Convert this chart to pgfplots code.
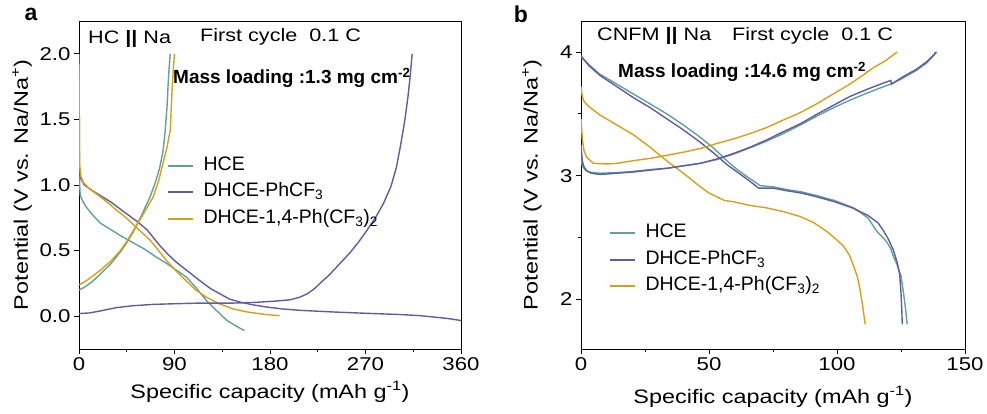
\documentclass[border=0pt]{standalone}
\usepackage{pgfplots}
\pgfplotsset{compat=1.18}
\usepackage{fontspec}
\setmainfont{Liberation Sans}
\newfontfamily\wide{Liberation Sans}[FakeStretch=1.2]
\newfontfamily\leg{Liberation Sans}
\definecolor{cteal}{RGB}{98,160,155}
\definecolor{cpurp}{RGB}{95,93,160}
\definecolor{cgold}{RGB}{215,160,25}
\pgfplotsset{
  panel/.style={
    scale only axis, height=328pt,
    axis line style={line width=0.9pt},
    tick align=outside, xtick pos=bottom, ytick pos=left,
    major tick length=5pt, minor tick length=3pt,
    every tick/.style={black, line width=0.8pt},
    tick label style={font=\fontsize{18.5}{18.5}\selectfont},
    label style={font=\wide\fontsize{19.5}{19.5}\selectfont},
    /pgf/number format/assume math mode=true,
    minor x tick num=1, minor y tick num=1,
    legend cell align=left,
    legend image code/.code={\draw[#1, line width=1.9pt] (0pt,0pt) -- (25pt,0pt);},
    legend style={draw=none, fill=none, font=\leg\fontsize{19.5}{19.5}\selectfont,
      row sep=4.5pt, column sep=8pt, nodes={inner sep=1.5pt, text height=14pt, text depth=5pt}},
    every axis plot/.append style={line width=1.4pt},
  }
}
\begin{document}
\begin{tikzpicture}
\path[use as bounding box] (0pt,0pt) rectangle (987pt,-414pt);
% ---------------- panel a ----------------
\begin{axis}[panel, width=382pt, at={(79pt,-349pt)}, anchor=south west,
  xmin=0, xmax=360, ymin=-0.25, ymax=2.25,
  xtick={0,90,180,270,360}, ytick={0,0.5,1,2},
  extra y ticks={1.5}, extra y tick labels={\scalebox{1.2}[1]{1.5}},
  extra y tick style={tick label style={text=black}},
  xticklabels={\scalebox{1.2}[1]{0},\scalebox{1.2}[1]{90},\scalebox{1.2}[1]{180},\scalebox{1.2}[1]{270},\scalebox{1.2}[1]{360}},
  yticklabels={\scalebox{1.2}[1]{0.0},\scalebox{1.2}[1]{0.5},\scalebox{1.2}[1]{1.0},\scalebox{1.2}[1]{2.0}},
  xlabel={Specific capacity (mAh g\textsuperscript{-1})},
  ylabel={Potential (V vs. Na/Na\textsuperscript{+})},
  xlabel style={at={(axis description cs:0.5,-0.131)}, anchor=center},
  ylabel style={at={(axis description cs:-0.149,0.5)}, anchor=center},
  legend style={at={(rel axis cs:0.2225,0.599)}, anchor=north west},
]
\addplot[cteal] coordinates {(0,2.0)(0.3,1.5)(0.6,1.0)(1.2,0.92)(4,0.87)(7,0.83)(12,0.78)(20,0.71)(30,0.66)(40,0.61)(51,0.56)(62,0.51)(73,0.45)(83,0.40)(92,0.35)(101,0.30)(110,0.22)(120,0.12)(130,0.04)(139,-0.03)(148,-0.075)(156,-0.11)};
\addlegendentry{HCE}
\addplot[cpurp] coordinates {(0,1.12)(1,1.06)(5,1.0)(12,0.96)(20,0.92)(30,0.87)(45,0.78)(55,0.72)(64,0.66)(70,0.60)(76,0.54)(84,0.47)(92,0.41)(103,0.34)(114,0.27)(124,0.21)(133,0.17)(142,0.13)(152,0.107)(165,0.085)(177,0.07)(192,0.055)(208,0.045)(240,0.032)(271,0.022)(302,0.013)(320,0.005)(334,-0.006)(348,-0.018)(360,-0.033)};
\addlegendentry{DHCE-PhCF\textsubscript{3}}
\addplot[cgold] coordinates {(0,1.91)(0.3,1.5)(0.6,1.15)(2,1.06)(4,1.02)(10,0.97)(20,0.91)(28,0.86)(35,0.81)(43,0.76)(51,0.70)(59,0.64)(67,0.58)(75,0.50)(83,0.42)(92,0.34)(101,0.27)(110,0.20)(120,0.145)(132,0.095)(145,0.056)(158,0.033)(171,0.018)(180,0.01)(189,0.004)};
\addlegendentry{DHCE-1,4-Ph(CF\textsubscript{3})\textsubscript{2}}
\addplot[cteal, forget plot] coordinates {(0,0.20)(5,0.22)(12,0.26)(20,0.32)(30,0.40)(39,0.49)(45,0.56)(51,0.64)(59,0.77)(67,0.91)(72,1.02)(76,1.13)(79,1.25)(81,1.39)(83,1.60)(84,1.77)(85,1.90)(86,2.0)};
\addplot[cpurp, forget plot] coordinates {(0,0.02)(10,0.025)(20,0.04)(35,0.065)(51,0.08)(70,0.09)(90,0.095)(114,0.1)(145,0.1)(165,0.105)(185,0.115)(199,0.125)(208,0.145)(215,0.17)(222,0.21)(227,0.25)(234,0.30)(240,0.35)(248,0.42)(255,0.48)(263,0.56)(271,0.65)(280,0.76)(287,0.86)(294,0.99)(299,1.13)(303,1.30)(307,1.49)(310,1.67)(312,1.82)(314,2.0)};
\addplot[cgold, forget plot] coordinates {(0,0.24)(5,0.26)(12,0.30)(20,0.35)(30,0.42)(39,0.50)(45,0.57)(51,0.65)(60,0.77)(70,0.91)(75,1.03)(79,1.16)(83,1.29)(86,1.42)(87,1.6)(88,1.77)(89,1.9)(90,2.0)};
\end{axis}
% ---------------- panel b ----------------
\begin{axis}[panel, width=384pt, at={(581pt,-349pt)}, anchor=south west,
  xmin=0, xmax=150, ymin=1.6, ymax=4.25,
  xtick={0,50,100,150}, ytick={2,3,4},
  xticklabels={\scalebox{1.2}[1]{0},\scalebox{1.2}[1]{50},\scalebox{1.2}[1]{100},\scalebox{1.2}[1]{150}},
  yticklabels={\scalebox{1.2}[1]{2},\scalebox{1.2}[1]{3},\scalebox{1.2}[1]{4}},
  xlabel={Specific capacity (mAh g\textsuperscript{-1})},
  ylabel={Potential (V vs. Na/Na\textsuperscript{+})},
  xlabel style={at={(axis description cs:0.5,-0.146)}, anchor=center},
  ylabel style={at={(axis description cs:-0.128,0.5)}, anchor=center},
  legend style={at={(rel axis cs:0.065,0.393)}, anchor=north west},
]
\addplot[cteal] coordinates {(0,3.96)(3,3.90)(7.4,3.82)(14,3.74)(20.5,3.66)(27,3.58)(33.5,3.50)(40,3.41)(46.6,3.31)(52,3.22)(57,3.12)(61,3.05)(65,2.99)(70,2.92)(75,2.91)(80,2.89)(86,2.87)(92,2.84)(99,2.80)(106.5,2.74)(110,2.69)(112,2.66)(114,2.60)(116,2.54)(118,2.50)(119.6,2.46)(121,2.41)(122,2.35)(123.5,2.28)(125,2.19)(126,2.05)(126.8,1.92)(127.4,1.80)};
\addlegendentry{HCE}
\addplot[cpurp] coordinates {(0,3.97)(3,3.89)(7.4,3.81)(14,3.72)(20.5,3.63)(27,3.55)(33.5,3.46)(40,3.37)(46.6,3.27)(52,3.18)(57,3.09)(61,3.03)(65,2.97)(69.4,2.90)(75,2.90)(80,2.88)(86,2.86)(92,2.83)(99,2.79)(106,2.74)(112,2.68)(116,2.62)(118,2.56)(120,2.49)(122,2.40)(123.5,2.30)(124.5,2.20)(125,2.05)(125.3,1.92)(125.5,1.80)};
\addlegendentry{DHCE-PhCF\textsubscript{3}}
\addplot[cgold] coordinates {(0,3.72)(0.5,3.64)(1.2,3.60)(3,3.56)(7.4,3.49)(14,3.41)(20.5,3.33)(27,3.23)(33.5,3.12)(40,3.02)(46.6,2.91)(50,2.86)(53,2.83)(56,2.80)(59.6,2.79)(66,2.76)(72.6,2.74)(79,2.71)(85.7,2.67)(91,2.62)(96,2.55)(100,2.48)(102.6,2.43)(104.8,2.36)(106.5,2.27)(108,2.18)(109,2.08)(110,1.95)(111,1.80)};
\addlegendentry{DHCE-1,4-Ph(CF\textsubscript{3})\textsubscript{2}}
\addplot[cteal, forget plot] coordinates {(0,3.15)(0.5,3.08)(1.5,3.05)(3,3.03)(7.4,3.02)(14,3.025)(20.5,3.035)(27,3.05)(33.5,3.06)(40,3.08)(46.6,3.10)(53,3.13)(59.6,3.175)(66,3.225)(72.6,3.28)(79,3.34)(85.7,3.41)(92,3.48)(98.7,3.55)(105,3.61)(112,3.67)(117,3.71)(121,3.74)(125,3.78)(131,3.85)(135,3.91)(139,4.0)};
\addplot[cpurp, forget plot] coordinates {(0,3.25)(0.5,3.12)(1.2,3.07)(2.2,3.04)(4,3.02)(7.4,3.01)(14,3.02)(20.5,3.03)(27,3.045)(33.5,3.06)(40,3.08)(46.6,3.10)(53,3.135)(59.6,3.18)(66,3.23)(72.6,3.29)(79,3.355)(85.7,3.42)(92,3.495)(98.7,3.57)(105,3.64)(112,3.70)(117,3.74)(121,3.77)(121.3,3.74)(125,3.79)(131,3.86)(135,3.92)(138,3.98)(138.5,4.0)};
\addplot[cgold, forget plot] coordinates {(0,3.46)(0.5,3.30)(1.2,3.20)(2.2,3.15)(4.8,3.10)(10,3.095)(14,3.10)(20,3.12)(27,3.14)(33.5,3.165)(40,3.19)(46.6,3.22)(53,3.26)(60,3.30)(66,3.34)(72.6,3.39)(79,3.45)(85.7,3.51)(92,3.58)(98.5,3.66)(105,3.74)(110,3.81)(114,3.87)(119,3.93)(123.5,4.0)};
\end{axis}
% ---------------- annotations ----------------
\node[anchor=west, inner sep=0pt, font=\wide\fontsize{18}{18}\selectfont] at (88pt,-39pt) {HC \textbf{||} Na};
\node[anchor=west, inner sep=0pt, font=\wide\fontsize{18}{18}\selectfont] at (200pt,-37pt) {First cycle\ \ 0.1 C};
\node[anchor=west, inner sep=0pt, font=\bfseries\fontsize{19}{19}\selectfont] at (173pt,-78pt) {Mass loading :1.3 mg cm\textsuperscript{-2}};
\node[anchor=west, inner sep=0pt, font=\wide\fontsize{18}{18}\selectfont] at (597pt,-36pt) {CNFM \textbf{||} Na};
\node[anchor=west, inner sep=0pt, font=\wide\fontsize{18}{18}\selectfont] at (732pt,-36pt) {First cycle\ \ 0.1 C};
\node[anchor=west, inner sep=0pt, font=\bfseries\fontsize{19}{19}\selectfont] at (618pt,-72pt) {Mass loading :14.6 mg cm\textsuperscript{-2}};
\node[inner sep=0pt, font=\bfseries\fontsize{23}{23}\selectfont] at (31pt,-14pt) {a};
\node[inner sep=0pt, font=\bfseries\fontsize{23}{23}\selectfont] at (521pt,-14pt) {b};
\end{tikzpicture}
\end{document}
